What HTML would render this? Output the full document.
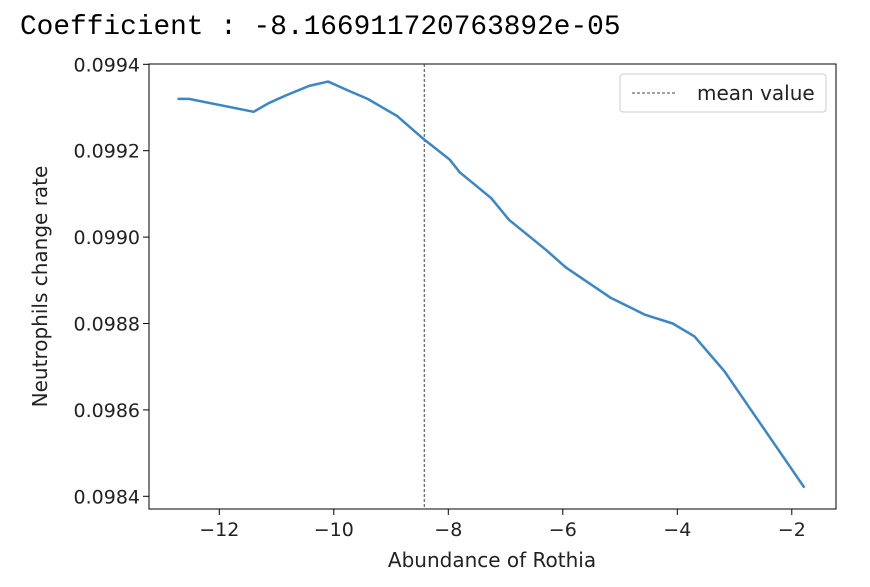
<!DOCTYPE html>
<html><head><meta charset="utf-8"><style>
body{margin:0;background:#fff;width:870px;height:582px;overflow:hidden}
svg text{font-family:"DejaVu Sans","Liberation Sans",sans-serif;fill:#222}
</style></head><body>
<svg width="870" height="582">
<text x="20" y="34" style="font-family:'Liberation Mono',monospace;font-size:27.8px;fill:#000">Coefficient : -8.166911720763892e-05</text>
<g id="plot"></g>
</svg>
<script>
const xs=[-12.73,-12.53,-11.4,-11.14,-10.8,-10.43,-10.1,-9.76,-9.41,-8.89,-8.46,-7.98,-7.8,-7.25,-6.94,-6.29,-5.95,-5.17,-4.56,-4.08,-3.7,-3.18,-1.78];
const ys=[0.09932,0.09932,0.09929,0.09931,0.09933,0.09935,0.09936,0.09934,0.09932,0.09928,0.09923,0.09918,0.09915,0.09909,0.09904,0.09897,0.09893,0.09886,0.09882,0.09880,0.09877,0.09869,0.09842];
const xTicks=[-12,-10,-8,-6,-4,-2];
const yTicks=[0.0984,0.0986,0.0988,0.0990,0.0992,0.0994];
const meanX=-8.42;
const L=149,R=836,T=64,B=509;
const X=v=>219.3+(v+12)*57.25;
const Y=v=>64.3+(0.0994-v)/0.0002*86.4;
const NS='http://www.w3.org/2000/svg';
const g=document.getElementById('plot');
function mk(t,a,txt){const e=document.createElementNS(NS,t);for(const k in a)e.setAttribute(k,a[k]);if(txt!==undefined)e.textContent=txt;g.appendChild(e);return e;}
const fr=mk('rect',{x:L,y:T,width:R-L,height:B-T,fill:'none',stroke:'#000','stroke-width':1});


xTicks.forEach(t=>{
 const l=mk('line',{x1:X(t),x2:X(t),y1:B,y2:B+6,stroke:'#000'});
 
 
 const s=mk('text',{x:X(t),y:B+27,'text-anchor':'middle','font-size':19},'\u2212'+Math.abs(t));
 
 
});
yTicks.forEach(t=>{
 const l=mk('line',{x1:L-6,x2:L,y1:Y(t),y2:Y(t),stroke:'#000'});
 
 
 const s=mk('text',{x:L-9,y:Y(t)+7,'text-anchor':'end','font-size':19},t.toFixed(4));
 
 
});
const ml=mk('line',{x1:X(meanX),x2:X(meanX),y1:T,y2:B,stroke:'#444','stroke-width':1,'stroke-dasharray':'3,2'});


const p=mk('polyline',{points:xs.map((x,i)=>X(x)+','+Y(ys[i])).join(' '),fill:'none',stroke:'#3b86c4','stroke-width':2.5,'stroke-linejoin':'round'});


const xl=mk('text',{x:492,y:567,'text-anchor':'middle','font-size':20},'Abundance of Rothia');


const yl=mk('text',{x:0,y:0,'text-anchor':'middle','font-size':20,transform:'translate(47,'+((T+B)/2)+') rotate(-90)'},'Neutrophils change rate');


const lb=mk('rect',{x:620,y:74,width:206,height:38,fill:'#fff',stroke:'#ccc',rx:3});


const ll=mk('line',{x1:632,x2:676,y1:93,y2:93,stroke:'#444','stroke-dasharray':'3,2'});


const lt=mk('text',{x:697,y:100,'font-size':20},'mean value');


</script>
</body></html>
